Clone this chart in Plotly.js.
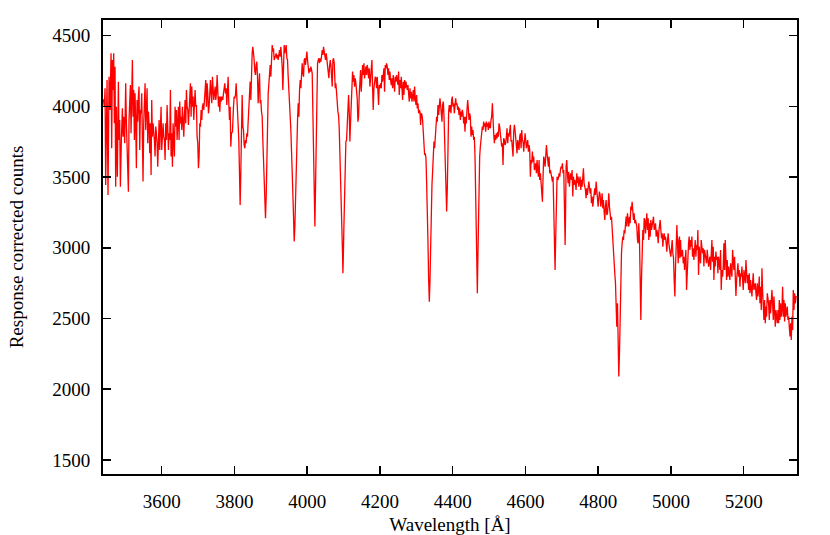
<!DOCTYPE html>
<html>
<head>
<meta charset="utf-8">
<script src="https://cdn.plot.ly/plotly-3.0.1.min.js"></script>
<style>
  html, body { margin: 0; padding: 0; background: #fff; }
  #spectrum { width: 830px; height: 535px; }
</style>
</head>
<body>
<div id="spectrum"></div>
<script>
// wavelength in Angstrom
const wavelength = [
  3439.5, 3442.2, 3444.1, 3445.9, 3449.6, 3452.3, 3455.1, 3457.8, 3460.6, 3462.4, 3464.3, 3466.1, 3467.9, 3469.8, 3471.6, 3473.4,
  3475.3, 3478.0, 3480.8, 3482.6, 3484.4, 3486.3, 3489.0, 3491.8, 3493.6, 3495.4, 3498.2, 3500.9, 3502.8, 3505.5, 3508.3, 3510.1,
  3511.9, 3513.8, 3515.6, 3517.5, 3519.3, 3521.1, 3523.0, 3524.8, 3526.6, 3528.5, 3530.3, 3532.1, 3534.0, 3535.8, 3537.6, 3539.5,
  3541.3, 3543.1, 3545.0, 3546.8, 3548.6, 3550.5, 3552.3, 3554.2, 3556.0, 3557.8, 3559.7, 3561.5, 3563.3, 3565.2, 3567.0, 3568.8,
  3570.7, 3572.5, 3574.3, 3576.2, 3578.0, 3579.8, 3581.7, 3583.5, 3585.3, 3587.2, 3589.0, 3590.8, 3592.7, 3594.5, 3596.3, 3598.2,
  3600.0, 3601.8, 3603.7, 3605.5, 3607.4, 3609.2, 3611.0, 3612.9, 3614.7, 3616.5, 3618.4, 3620.2, 3622.0, 3623.9, 3625.7, 3627.5,
  3629.4, 3631.2, 3633.0, 3634.9, 3636.7, 3638.5, 3640.4, 3642.2, 3644.0, 3645.9, 3647.7, 3649.5, 3651.4, 3653.2, 3655.1, 3656.9,
  3658.7, 3660.6, 3662.4, 3664.2, 3666.1, 3667.9, 3669.7, 3671.6, 3673.4, 3675.2, 3677.1, 3678.9, 3680.7, 3682.6, 3684.4, 3686.2,
  3688.1, 3689.9, 3691.7, 3693.6, 3695.4, 3697.2, 3699.1, 3700.9, 3702.8, 3704.6, 3706.4, 3708.3, 3710.1, 3711.9, 3713.8, 3715.6,
  3717.4, 3719.3, 3721.1, 3722.9, 3724.8, 3726.6, 3728.4, 3730.3, 3732.1, 3733.9, 3735.8, 3737.6, 3739.4, 3741.3, 3743.1, 3744.9,
  3746.8, 3748.6, 3750.4, 3752.3, 3754.1, 3756.0, 3757.8,
  3759.7, 3761.5, 3763.3, 3765.2, 3767.9, 3769.8, 3771.6, 3773.4, 3775.3, 3777.1, 3778.9, 3780.8, 3782.6, 3784.4, 3786.3, 3788.1,
  3789.9, 3791.8, 3794.5, 3797.3, 3799.1, 3800.9, 3802.8, 3804.6, 3806.4, 3808.3, 3810.1, 3811.9, 3813.8, 3815.6, 3817.4, 3819.3,
  3821.1, 3823.0, 3824.8, 3826.6, 3828.5, 3830.3, 3832.1, 3834.0, 3835.8, 3837.6, 3839.5, 3841.3, 3843.1, 3845.0, 3846.8, 3848.6,
  3850.5, 3852.3, 3854.1, 3856.0, 3857.8, 3859.6, 3861.5, 3863.3, 3865.1, 3867.0, 3868.8, 3870.7, 3872.5, 3874.3, 3876.2, 3878.0,
  3879.8, 3881.7, 3883.5, 3885.3, 3887.2, 3889.0, 3890.8, 3892.7, 3894.5, 3896.3, 3898.2, 3900.0, 3901.8, 3903.7, 3905.5, 3907.3,
  3909.2, 3911.0, 3912.8, 3914.7, 3916.5, 3918.3, 3920.2, 3922.0, 3923.9, 3925.7, 3927.5, 3929.4, 3931.2, 3933.0, 3934.9, 3936.7,
  3938.5, 3940.4, 3942.2, 3944.0, 3945.9, 3947.7, 3949.5, 3951.4, 3953.2, 3955.0, 3956.9, 3958.7, 3960.5, 3962.4, 3964.2, 3966.1,
  3967.9, 3969.7, 3971.6, 3973.4, 3975.2, 3977.1, 3978.9, 3980.7, 3982.6, 3984.4, 3986.2, 3988.1, 3989.9, 3991.7, 3993.6, 3995.4,
  3997.2, 3999.1, 4000.9, 4002.7, 4004.6, 4006.4, 4008.2, 4010.1, 4011.9, 4013.7, 4015.6, 4017.4, 4019.3, 4021.1, 4022.9, 4024.8,
  4026.6, 4028.4, 4030.3, 4032.1, 4033.9, 4035.8, 4037.6, 4039.4, 4041.3, 4043.1, 4044.9, 4046.8, 4048.6, 4050.4, 4052.3, 4054.1,
  4055.9, 4057.8, 4059.6, 4061.4, 4063.3, 4065.1, 4066.9, 4068.8, 4070.6, 4072.4, 4074.3,
  4075.1, 4077.0, 4078.8, 4080.7, 4082.5, 4084.3, 4086.2, 4088.0, 4089.8, 4091.7, 4093.5, 4095.3, 4097.2, 4098.1, 4099.0, 4100.8,
  4102.7, 4104.5, 4106.3, 4108.2, 4110.0, 4111.8, 4113.7, 4115.5, 4117.3, 4119.2, 4121.0, 4122.8, 4124.7, 4126.5, 4128.3, 4130.2,
  4132.0, 4133.8, 4135.7, 4137.5, 4139.4, 4141.2, 4143.0, 4144.9, 4146.7, 4148.5, 4150.4, 4152.2, 4154.0, 4155.9, 4157.7, 4159.5,
  4161.4, 4163.2, 4165.0, 4166.9, 4168.7, 4170.5, 4172.4, 4174.2, 4176.0, 4177.9, 4179.7, 4181.5, 4183.4, 4185.2, 4187.1, 4188.9,
  4190.7, 4192.6, 4194.4, 4196.2, 4198.1, 4199.9, 4201.7, 4203.6, 4205.4, 4207.2, 4209.1, 4210.9, 4212.7, 4214.6, 4216.4, 4218.2,
  4220.1, 4221.9, 4223.7, 4225.6, 4227.4, 4229.2, 4231.1, 4232.9, 4234.8, 4236.6, 4238.4, 4240.3, 4242.1, 4243.9, 4245.8, 4247.6,
  4249.4, 4251.3, 4253.1, 4254.9, 4256.8, 4258.6, 4260.4, 4262.3, 4264.1, 4265.9, 4267.8, 4269.6, 4271.4, 4273.3, 4275.1, 4276.9,
  4278.8, 4280.6, 4282.5, 4284.3, 4286.1, 4288.0, 4289.8, 4291.6, 4293.5, 4295.3, 4297.1, 4299.0, 4300.8, 4302.6, 4304.5, 4306.3,
  4308.1, 4310.0, 4311.8, 4313.6, 4315.5, 4317.3, 4319.1, 4321.0, 4322.8, 4324.6, 4326.5, 4328.3, 4330.2, 4332.0, 4333.8, 4335.7,
  4337.5, 4339.3, 4341.2, 4343.0, 4344.8, 4346.7, 4348.5, 4350.3, 4352.2, 4354.0, 4355.8, 4357.7, 4359.5, 4361.3, 4363.2, 4365.0,
  4366.8, 4368.7, 4370.5, 4372.4, 4374.2, 4376.0, 4377.9, 4379.7, 4381.5, 4383.4, 4385.2, 4387.0, 4388.9, 4390.7,
  4391.6, 4393.5, 4395.3, 4397.1, 4399.0, 4400.8, 4402.6, 4404.5, 4406.3, 4408.2, 4410.0, 4411.8, 4413.7, 4415.5, 4417.3, 4419.2,
  4421.0, 4422.8, 4424.7, 4426.5, 4428.3, 4430.2, 4432.0, 4433.8, 4435.7, 4437.5, 4439.3, 4441.2, 4443.0, 4444.8, 4446.7, 4448.5,
  4450.3, 4452.2, 4454.0, 4455.8, 4457.7, 4459.5, 4461.4, 4463.2, 4465.0, 4466.9, 4467.8, 4468.7, 4470.5, 4472.4, 4474.2, 4476.0,
  4477.9, 4479.7, 4481.5, 4483.4, 4485.2, 4487.0, 4488.9, 4490.7, 4492.5, 4494.4, 4496.2, 4498.0, 4499.9, 4501.7, 4503.6, 4505.4,
  4507.2, 4509.1, 4510.9, 4512.7, 4514.6, 4516.4, 4518.2, 4520.1, 4521.9, 4523.7, 4525.6, 4527.4, 4529.2, 4531.1, 4532.9, 4534.7,
  4536.6, 4538.4, 4540.2, 4542.1, 4543.9, 4545.8, 4547.6, 4549.4, 4551.3, 4553.1, 4554.9, 4556.8, 4558.6, 4560.4, 4562.3, 4564.1,
  4565.9, 4567.8, 4569.6, 4571.4, 4573.3, 4575.1, 4576.9, 4578.8, 4580.6, 4582.4, 4584.3, 4586.1, 4588.0, 4589.8, 4591.6, 4593.5,
  4595.3, 4597.1, 4599.0, 4600.8, 4602.6, 4604.5, 4606.3, 4608.1, 4610.0, 4611.8, 4613.6, 4615.5, 4617.3, 4619.1, 4621.0, 4622.8,
  4624.6, 4626.5, 4628.3, 4630.1, 4632.0, 4633.8, 4635.6, 4637.5, 4639.3, 4641.2, 4643.0, 4644.8, 4646.7, 4648.5, 4650.3, 4652.2,
  4654.0, 4655.8, 4657.7, 4659.5, 4661.3, 4663.2, 4665.0, 4666.8, 4668.7, 4670.5, 4672.3, 4674.2, 4676.0, 4677.8, 4679.7, 4681.5,
  4683.3, 4685.2, 4687.0, 4688.8, 4690.7, 4692.5, 4694.4, 4696.2, 4698.0, 4699.9, 4701.7, 4703.5, 4705.4,
  4708.1, 4709.1, 4710.0, 4711.8, 4713.6, 4715.5, 4717.3, 4719.1, 4721.0, 4722.8, 4724.7, 4726.5, 4728.3, 4730.2, 4732.0, 4733.8,
  4735.7, 4737.5, 4739.3, 4741.2, 4743.0, 4744.8, 4746.7, 4748.5, 4750.3, 4752.2, 4754.0, 4755.8, 4757.7, 4759.5, 4761.3, 4763.2,
  4765.0, 4766.8, 4768.7, 4770.5, 4772.4, 4774.2, 4776.0, 4777.9, 4779.7, 4781.5, 4783.4, 4785.2, 4787.0, 4788.9, 4790.7, 4792.5,
  4794.4, 4796.2, 4798.0, 4799.9, 4801.7, 4803.5, 4805.4, 4807.2, 4809.0, 4810.9, 4812.7, 4814.5, 4816.4, 4818.2, 4820.0, 4821.9,
  4823.7, 4825.6, 4827.4, 4829.2, 4831.1, 4832.9, 4834.7, 4836.6, 4838.4, 4840.2, 4842.1, 4843.9, 4845.7, 4847.6, 4849.4, 4851.2,
  4853.1, 4854.9, 4856.7, 4858.6, 4860.4, 4862.2, 4864.1, 4865.9, 4867.8, 4869.6, 4871.4, 4873.3, 4875.1, 4876.9, 4878.8, 4880.6,
  4882.4, 4884.3, 4886.1, 4887.9, 4889.8, 4891.6, 4893.4, 4895.3, 4897.1, 4898.9, 4900.8, 4902.6, 4904.4, 4906.3, 4908.1, 4909.9,
  4911.8, 4913.6, 4915.5, 4917.3, 4919.1, 4921.0, 4922.8, 4924.6, 4926.5, 4928.3, 4930.1, 4932.0, 4933.8, 4935.6, 4937.5, 4939.3,
  4941.1, 4943.0, 4944.8, 4946.6, 4948.5, 4950.3, 4952.1, 4954.0, 4955.8, 4957.7, 4959.5, 4961.3, 4963.2, 4965.0, 4966.8, 4968.7,
  4970.5, 4972.3, 4974.2, 4976.0, 4977.8, 4979.7, 4981.5, 4983.3, 4985.2, 4987.0, 4988.8, 4990.7, 4992.5, 4994.3, 4996.2, 4998.0,
  4999.8, 5001.7, 5003.5, 5005.3, 5007.2, 5009.0, 5010.9, 5012.7, 5014.5, 5016.4, 5018.2, 5020.0, 5021.9, 5023.7,
  5024.6, 5026.5, 5028.3, 5030.1, 5032.0, 5033.8, 5035.7, 5037.5, 5039.3, 5041.2, 5043.0, 5044.8, 5046.7, 5048.5, 5050.3, 5052.2,
  5054.0, 5055.8, 5057.7, 5059.5, 5061.3, 5063.2, 5065.0, 5066.8, 5068.7, 5070.5, 5072.3, 5074.2, 5076.0, 5077.8, 5079.7, 5081.5,
  5083.3, 5085.2, 5087.0, 5088.9, 5090.7, 5092.5, 5094.4, 5096.2, 5098.0, 5099.9, 5101.7, 5103.5, 5105.4, 5107.2, 5109.0, 5110.9,
  5112.7, 5114.5, 5116.4, 5118.2, 5120.0, 5121.9, 5123.7, 5125.5, 5127.4, 5129.2, 5131.0, 5132.9, 5134.7, 5136.6, 5138.4, 5140.2,
  5142.1, 5143.9, 5145.7, 5147.6, 5149.4, 5151.2, 5153.1, 5154.9, 5156.7, 5158.6, 5160.4, 5162.2, 5164.1, 5165.9, 5167.7, 5169.6,
  5171.4, 5173.2, 5175.1, 5176.9, 5178.8, 5180.6, 5182.4, 5184.3, 5186.1, 5187.9, 5189.8, 5191.6, 5193.4, 5195.3, 5197.1, 5198.9,
  5200.8, 5202.6, 5204.4, 5206.3, 5208.1, 5209.9, 5211.8, 5213.6, 5215.4, 5217.3, 5219.1, 5220.9, 5222.8, 5224.6, 5226.4, 5228.3,
  5230.1, 5232.0, 5233.8, 5235.6, 5237.5, 5239.3, 5241.1, 5243.0, 5244.8, 5246.6, 5248.5, 5250.3, 5252.1, 5254.0, 5255.8, 5257.6,
  5259.5, 5261.3, 5263.1, 5265.0, 5266.8, 5268.6, 5270.5, 5272.3, 5274.1, 5276.0, 5277.8, 5279.6, 5281.5, 5283.3, 5285.2, 5287.0,
  5288.8, 5290.7, 5292.5, 5294.3, 5296.2, 5298.0, 5299.8, 5301.7, 5303.5, 5305.3, 5307.2, 5309.0, 5310.8, 5312.7, 5314.5, 5316.3,
  5318.2, 5320.0, 5321.8, 5323.7, 5325.5, 5327.4, 5329.2, 5331.0, 5332.9, 5334.7, 5336.5, 5338.4, 5340.2, 5342.0, 5344.5
];

// response corrected counts, same order as wavelength
const counts = [
  4050, 3998, 4128, 3444, 4187, 3374, 4210, 3975, 4375, 3704, 4328, 4116, 4375, 3880, 4281, 3432,
  3998, 3503, 4175, 3762, 3904, 3432, 3762, 3986, 3786, 3927, 3739, 4163, 3880, 3692, 3397, 3904,
  3998, 4151, 3810, 4022, 4328, 3927, 4116, 3762, 4092, 3880, 3562, 4045, 3892, 4069, 4140, 3692,
  3975, 3951, 4092, 3774, 3468, 3880, 4045, 4163, 3833, 3998, 4128, 3739, 3963, 3869, 3668, 3880,
  3515, 4045, 3786, 3880, 3833, 3762, 3645, 3857, 3810, 3739, 3574, 3786, 3904, 3692, 3927, 3998,
  3692, 3857, 3880, 3786, 3762, 3621, 3880, 3762, 4010, 3857, 3692, 3810, 3762, 4116, 3645, 3810,
  3574, 3880, 3762, 3645, 3998, 3857, 3975, 3762, 3880, 3998, 3762, 4034, 3880, 3927, 3833, 3998,
  3904, 3786, 3927, 4045, 3880, 4116, 3998, 3975, 3869, 3998, 4140, 4163, 3927, 4140, 3998, 4069,
  3904, 4022, 4116, 3998, 4010, 3786, 3739, 3562, 3645, 3880, 3857, 3975, 3904, 3998, 4022, 3975,
  4069, 4116, 4187, 3998, 4163, 4092, 3951, 3998, 4069, 4187, 4092, 4022, 4210, 4140, 4045, 4092,
  4140, 4045, 4092, 4222, 4116, 3998, 4069,
  3963, 4069, 4034, 4069, 4045, 4092, 4116, 4163, 4092, 4128, 4010, 4116, 4210, 4022, 3904, 3998,
  3715, 3810, 3821, 3998, 4069, 4057, 4081, 4163, 4022, 3975, 3869, 3762, 3503, 3303, 3527, 3810,
  4081, 3857, 3833, 3727, 3704, 3762, 3739, 3810, 3786, 3892, 3998, 4151, 4175, 4045, 4352, 4375,
  4422, 4387, 4328, 4246, 4222, 4293, 4316, 4210, 4022, 4140, 4234, 4022, 4045, 3963, 3927, 3762,
  3574, 3480, 3315, 3209, 3362, 3527, 3833, 4092, 4140, 4234, 4293, 4210, 4328, 4434, 4387, 4411,
  4328, 4340, 4364, 4375, 4340, 4364, 4328, 4375, 4399, 4352, 4422, 4352, 4281, 4116, 4340, 4434,
  4375, 4411, 4434, 4340, 4328, 4210, 4140, 3998, 3927, 3833, 3715, 3574, 3385, 3220, 3044, 3150,
  3409, 3621, 3786, 3904, 4022, 3927, 4116, 4187, 4128, 4281, 4305, 4234, 4210, 4328, 4340, 4293,
  4352, 4387, 4328, 4281, 4234, 4269, 4246, 4281, 4257, 4234, 3951, 3574, 3338, 3150, 3432, 3880,
  4163, 4305, 4328, 4340, 4305, 4340, 4316, 4375, 4399, 4364, 4422, 4387, 4352, 4328, 4375, 4340,
  4305, 4257, 4199, 4281, 4328, 4293, 4163, 4140, 4328, 4340, 4305,
  4198, 4128, 4163, 4116, 4034, 3963, 3939, 3845, 3704, 3539, 3350, 3138, 2949, 2820, 2902, 3138,
  3374, 3586, 3751, 3762, 3916, 3939, 4081, 3963, 3751, 3892, 4057, 4151, 4246, 4175, 4222, 4140,
  4199, 4163, 4128, 4057, 3892, 3927, 4081, 4151, 4257, 4104, 4198, 4293, 4222, 4305, 4198, 4269,
  4281, 4222, 4293, 4257, 4198, 4269, 4140, 4198, 4246, 4328, 4140, 3975, 4128, 4175, 4210, 4198,
  4128, 4210, 4104, 4010, 4151, 4128, 4163, 4128, 4222, 4175, 4222, 4269, 4104, 4293, 4269, 4305,
  4281, 4222, 4269, 4187, 4246, 4187, 4151, 4198, 4128, 4222, 4175, 4104, 4210, 4175, 4222, 4198,
  4151, 4246, 4081, 4187, 4128, 4210, 4104, 4045, 4175, 4081, 4187, 4128, 4175, 4128, 4116, 4151,
  4104, 4034, 4128, 4057, 4104, 4034, 4069, 4116, 4034, 4140, 4057, 4010, 4081, 3986, 4022, 3951,
  3975, 3963, 3869, 3951, 3939, 3904, 3821, 3751, 3656, 3668, 3633, 3468, 3303, 3044, 2784, 2619,
  2761, 3044, 3326, 3444, 3539, 3656, 3751, 3704, 3798, 3869, 3927, 3892, 4010, 3939, 3986, 4057,
  4010, 3951, 3892, 4010, 4034, 3939, 3751, 3609, 3421, 3256, 3421, 3798, 3963, 4010,
  3963, 4010, 3951, 4045, 4069, 3998, 4022, 3951, 4045, 4057, 4010, 4022, 3975, 3998, 3939, 3986,
  3904, 3963, 3927, 3975, 3951, 3880, 3927, 3821, 3927, 3880, 3975, 4045, 3986, 3904, 3951, 3927,
  3786, 3857, 3798, 3833, 3762, 3786, 3645, 3338, 2985, 2796, 2678, 2843, 3173, 3456, 3645, 3715,
  3786, 3798, 3857, 3833, 3892, 3857, 3880, 3821, 3892, 3857, 3880, 3833, 3892, 3857, 3845, 3904,
  3927, 4022, 3845, 3810, 3739, 3798, 3762, 3810, 3774, 3821, 3786, 3880, 3857, 3798, 3751, 3715,
  3739, 3586, 3774, 3762, 3727, 3739, 3786, 3845, 3739, 3810, 3786, 3833, 3869, 3751, 3762, 3704,
  3645, 3821, 3869, 3833, 3774, 3762, 3668, 3762, 3739, 3692, 3786, 3810, 3704, 3833, 3762, 3751,
  3680, 3739, 3810, 3762, 3704, 3739, 3762, 3680, 3727, 3692, 3503, 3621, 3597, 3680, 3609, 3645,
  3550, 3574, 3597, 3527, 3621, 3550, 3503, 3621, 3480, 3527, 3456, 3409, 3326, 3503, 3645, 3621,
  3574, 3645, 3727, 3668, 3621, 3574, 3645, 3527, 3550, 3527, 3515, 3468, 3503, 3315, 3055, 2843,
  3079, 3409, 3503, 3480, 3491, 3527, 3503, 3550, 3574, 3562, 3597, 3527, 3550,
  3173, 3020, 3173, 3574, 3621, 3527, 3456, 3538, 3432, 3503, 3527, 3480, 3550, 3362, 3503, 3444,
  3480, 3456, 3409, 3527, 3456, 3503, 3432, 3468, 3503, 3409, 3480, 3432, 3550, 3562, 3456, 3432,
  3409, 3350, 3421, 3373, 3409, 3468, 3432, 3385, 3421, 3315, 3362, 3291, 3338, 3385, 3421, 3373,
  3468, 3409, 3315, 3291, 3350, 3397, 3373, 3291, 3326, 3385, 3279, 3338, 3256, 3197, 3291, 3338,
  3232, 3244, 3303, 3385, 3291, 3232, 3197, 3220, 3126, 3008, 2985, 2890, 2820, 2749, 2631, 2442,
  2607, 2348, 2089, 2254, 2537, 2820, 2961, 3032, 3079, 3055, 3126, 3102, 3197, 3220, 3150, 3244,
  3197, 3150, 3220, 3173, 3291, 3267, 3326, 3279, 3197, 3244, 3173, 3197, 3173, 3150, 3055, 3032,
  3173, 3055, 2773, 2490, 2773, 3055, 3126, 3055, 3208, 3197, 3102, 3173, 3244, 3126, 3208, 3055,
  3173, 3079, 3197, 3126, 3150, 3173, 3220, 3126, 3150, 3173, 3079, 3126, 3102, 3032, 3114, 3150,
  3197, 3126, 3067, 3102, 3008, 3079, 3102, 3055, 3079, 3032, 2973, 3055, 3102, 3032, 3008, 2961,
  2937, 3008, 3055, 2961, 2926, 2773, 2655, 2867, 3102, 3161, 3032, 2890, 3055, 3079,
  2926, 3055, 2937, 2961, 2985, 2890, 2937, 2843, 2902, 2985, 2702, 2867, 2973, 3032, 3079, 2985,
  3055, 3008, 3079, 2937, 2996, 2914, 2985, 3055, 2937, 3020, 2985, 3126, 2808, 3008, 2937, 2890,
  3055, 3008, 2961, 2996, 2867, 2985, 2937, 2914, 2890, 2985, 2937, 2867, 2902, 2937, 2843, 2937,
  3055, 2902, 3008, 2772, 2937, 2867, 2973, 2914, 2937, 2820, 2937, 2890, 2843, 2985, 2702, 2843,
  2796, 2867, 3032, 2843, 3055, 2937, 2772, 2914, 2796, 2867, 2820, 2772, 2890, 2843, 2796, 2985,
  2890, 2843, 2937, 2796, 2659, 2772, 2820, 2890, 2796, 2843, 2725, 2820, 2796, 2867, 2772, 2702,
  2843, 2772, 2749, 2914, 2796, 2749, 2808, 2702, 2820, 2678, 2772, 2702, 2655, 2749, 2820, 2702,
  2725, 2749, 2678, 2631, 2749, 2655, 2702, 2796, 2607, 2725, 2560, 2855, 2702, 2560, 2490, 2631,
  2466, 2584, 2513, 2678, 2631, 2607, 2490, 2631, 2537, 2655, 2702, 2607, 2490, 2655, 2584, 2442,
  2560, 2513, 2466, 2560, 2466, 2631, 2490, 2607, 2513, 2560, 2725, 2513, 2631, 2478, 2607, 2513,
  2560, 2584, 2490, 2513, 2442, 2372, 2466, 2348, 2513, 2419, 2702, 2560, 2678, 2607, 2660
];

const xTicks = [3600, 3800, 4000, 4200, 4400, 4600, 4800, 5000, 5200];
const yTicks = [1500, 2000, 2500, 3000, 3500, 4000, 4500];

const serif = "'Liberation Serif', 'Times New Roman', serif";

const axisStyle = {
  ticks: "inside",
  ticklen: 8,
  tickwidth: 1.5,
  tickcolor: "#000",
  showline: true,
  linecolor: "#000",
  linewidth: 2,
  mirror: "ticks",
  showgrid: false,
  zeroline: false,
  tickfont: { family: serif, size: 19, color: "#000" }
};

Plotly.newPlot("spectrum", [{
  x: wavelength,
  y: counts,
  type: "scatter",
  mode: "lines",
  line: { color: "#ff0000", width: 1.3 },
  hoverinfo: "skip"
}], {
  width: 830,
  height: 535,
  margin: { l: 103, r: 33, t: 20, b: 61 },
  paper_bgcolor: "#fff",
  plot_bgcolor: "#fff",
  showlegend: false,
  font: { family: serif, size: 19, color: "#000" },
  xaxis: Object.assign({}, axisStyle, {
    range: [3438.5, 5346.7],
    tickvals: xTicks,
    ticklabelstandoff: 9,
    title: { text: "Wavelength [Å]", standoff: 8, font: { family: serif, size: 19 } }
  }),
  yaxis: Object.assign({}, axisStyle, {
    range: [1400, 4611],
    tickvals: yTicks,
    ticklabelstandoff: 7,
    title: { text: "Response corrected counts", standoff: 24, font: { family: serif, size: 19 } }
  })
}, { displayModeBar: false, staticPlot: true });
</script>
</body>
</html>
